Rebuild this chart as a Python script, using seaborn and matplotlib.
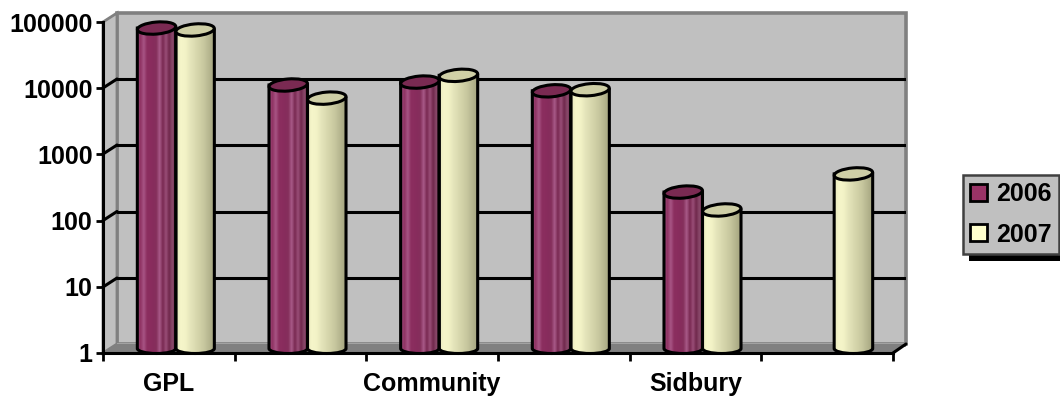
import numpy as np
import pandas as pd
import matplotlib
matplotlib.use("Agg")
import matplotlib.pyplot as plt
from matplotlib.colors import LinearSegmentedColormap
from matplotlib.patches import Ellipse, PathPatch, Polygon, Rectangle
from matplotlib.path import Path
import seaborn as sns

category_labels = ["GPL", "", "Community", "", "Sidbury", ""]
values_2006 = [67000, 9300, 10300, 7600, 227, np.nan]
values_2007 = [62700, 5900, 13000, 7900, 122, 426]
decade_labels = ["1", "10", "100", "1000", "10000", "100000"]
series_colors = {"2006": "#993366", "2007": "#FFFFCC"}

W, H = 1060, 397
sns.set_theme(style="white")
plt.rcParams["font.family"] = ["Liberation Sans", "DejaVu Sans"]
plt.rcParams["font.weight"] = "bold"
plt.rcParams["text.color"] = "black"

fig = plt.figure(figsize=(W / 100, H / 100), dpi=100, facecolor="white")


def axes_at(left, top, right, bottom, **kw):
    return fig.add_axes([left / W, 1 - bottom / H, (right - left) / W, (bottom - top) / H], **kw)


def log_axes(ax):
    ax.set_yscale("log")
    ax.set_ylim(1, 1e5)
    ax.set_xlim(0, 6)
    ax.patch.set_alpha(0)


# Chart walls and floor, laid out in pixel space
stage = axes_at(0, 0, W, H)
stage.set_xlim(0, W)
stage.set_ylim(H, 0)
stage.axis("off")
stage.add_patch(Polygon([(117, 13), (906, 13), (906, 344), (117, 344)], fc="#C0C0C0", ec="#808080", lw=2.6))
stage.add_patch(Polygon([(103, 22), (117, 13), (117, 344), (103, 353)], fc="#C0C0C0", ec="#808080", lw=2))
stage.add_patch(Polygon([(117, 343), (906, 343), (906, 347), (117, 347)], fc="#A2A2A2", ec="none"))
stage.add_patch(Polygon([(103, 353), (117, 344), (906, 344), (893, 353)], fc="#808080", ec="none"))

# Back plane carrying the decade gridlines
back = axes_at(117, 12.5, 906, 344.5)
log_axes(back)
back.set_xticks([])
back.set_yticks([10, 100, 1000, 10000])
back.minorticks_off()
back.tick_params(left=False, labelleft=False)
back.grid(axis="y", color="black", lw=2.2)
sns.despine(ax=back, left=True, bottom=True)

# Middle plane: the bars themselves
mid = axes_at(110, 16.5, 900, 348.5)
mid.set_yscale("log")
frame = pd.DataFrame({
    "slot": list(range(6)) * 2,
    "year": ["2006"] * 6 + ["2007"] * 6,
    "value": values_2006 + values_2007,
})
sns.barplot(data=frame, x="slot", y="value", hue="year", hue_order=["2006", "2007"],
            palette=series_colors, width=0.585, gap=0, ax=mid, legend=False, saturation=1)
mid.set_xlim(-0.5, 5.5)
mid.set_ylim(1, 1e5)
mid.axis("off")

# Front plane: the axis lines, ticks and labels
front = axes_at(103, 22, 893, 353)
log_axes(front)
front.set_yticks(10.0 ** np.arange(6))
front.set_yticklabels(decade_labels, fontsize=18, fontweight="bold", color="black")
front.minorticks_off()
front.set_xticks(range(7))
front.set_xticklabels([])
front.set_xticks(np.arange(6) + 0.5, category_labels, minor=True, fontsize=18, fontweight="bold", color="black")
front.tick_params(axis="y", which="major", left=True, length=5, width=2, color="black", pad=2.5)
front.tick_params(axis="x", which="major", bottom=True, length=6, width=2, color="black")
front.tick_params(axis="x", which="minor", bottom=False, pad=9.5)
front.tick_params(axis="y", which="minor", left=False)
for side in ("left", "bottom"):
    front.spines[side].set_visible(True)
    front.spines[side].set_color("black")
    front.spines[side].set_linewidth(2.2)
front.spines["top"].set_visible(False)
front.spines["right"].set_visible(False)

# Depth strokes linking the front axis to the back wall
for pixel_y in (88, 154, 220.5, 287):
    stage.plot([103, 117], [pixel_y, pixel_y - 9], color="black", lw=2.2)
stage.plot([893, 906], [353, 344], color="black", lw=2.2)

# Cylinders are painted on a pixel-space overlay from the barplot's own geometry
overlay = axes_at(0, 0, W, H)
overlay.set_xlim(0, W)
overlay.set_ylim(H, 0)
overlay.axis("off")
overlay.patch.set_alpha(0)

shades = {
    "2006": ["#A04A7C", "#8F3363", "#A85585", "#8C2F60", "#8A2D5E", "#872C5C", "#85305C",
             "#A85A88", "#7A2A52", "#9A4E78", "#70284C", "#8A4A6C", "#6A2646"],
    "2007": ["#E8E8BE", "#F6F6CA", "#F2F2C6", "#E4E4BA", "#DADAB0", "#D0D0A6", "#C4C49C", "#B4B48E", "#A4A47E"],
}
caps = {"2006": "#7A2A52", "2007": "#CFCFA6"}
RY_TOP, RY_BOTTOM = 6.0, 5.0

bars = [p for p in mid.patches if np.isfinite(p.get_height()) and p.get_height() > 0]
bars.sort(key=lambda p: p.get_x())
to_overlay = mid.transData + overlay.transData.inverted()
for bar in bars:
    year = "2006" if matplotlib.colors.same_color(bar.get_facecolor(), series_colors["2006"]) else "2007"
    bar.set_visible(False)
    (x0, y_top), (x1, y_base) = to_overlay.transform([(bar.get_x(), bar.get_height()), (bar.get_x() + bar.get_width(), 1)])
    xc, rx = (x0 + x1) / 2, (x1 - x0) / 2
    k = 0.5523
    verts = [(x0, y_top), (x0, y_base),
             (x0, y_base + k * RY_BOTTOM), (xc - k * rx, y_base + RY_BOTTOM), (xc, y_base + RY_BOTTOM),
             (xc + k * rx, y_base + RY_BOTTOM), (x1, y_base + k * RY_BOTTOM), (x1, y_base),
             (x1, y_top), (x0, y_top)]
    codes = [Path.MOVETO, Path.LINETO, Path.CURVE4, Path.CURVE4, Path.CURVE4,
             Path.CURVE4, Path.CURVE4, Path.CURVE4, Path.LINETO, Path.CLOSEPOLY]
    body = PathPatch(Path(verts, codes), fc="none", ec="none", transform=overlay.transData)
    overlay.add_patch(body)
    cmap = LinearSegmentedColormap.from_list(year, shades[year])
    im = overlay.imshow(np.linspace(0, 1, 64)[None, :], cmap=cmap, aspect="auto",
                        extent=[x0, x1, y_base + RY_BOTTOM, y_top], zorder=2)
    im.set_clip_path(body)
    overlay.add_patch(PathPatch(Path(verts, codes), fc="none", ec="black", lw=2.2, zorder=3))
    overlay.add_patch(Ellipse((xc, y_top), 2 * rx, 2 * RY_TOP, angle=-5, fc=caps[year], ec="black", lw=2.2, zorder=4))
overlay.set_xlim(0, W)
overlay.set_ylim(H, 0)

# Legend with its hard drop shadow
overlay.add_patch(Rectangle((969, 181), 91, 80, fc="black", ec="none", zorder=5))
handles = [Rectangle((0, 0), 1, 1, fc=series_colors[y], ec="black", lw=2) for y in series_colors]
legend = overlay.legend(handles, list(series_colors), loc="upper left",
                        bbox_to_anchor=(963, 175), bbox_transform=overlay.transData,
                        prop={"family": "Liberation Sans", "weight": "bold", "size": 18},
                        labelcolor="black", fancybox=False, framealpha=1, facecolor="#C0C0C0",
                        edgecolor="#404040", handlelength=0.68, handleheight=0.68, handletextpad=0.36,
                        labelspacing=0.66, borderpad=0.28, borderaxespad=0)
legend.set_zorder(6)
legend.get_frame().set_linewidth(1.8)

fig.savefig("out.png", dpi=100, facecolor="white")
